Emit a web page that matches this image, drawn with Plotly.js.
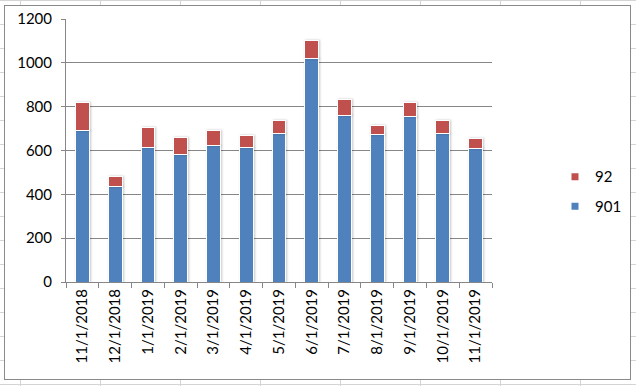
<!DOCTYPE html>
<html>
<head>
<meta charset="utf-8">
<script src="https://cdn.plot.ly/plotly-3.0.1.min.js"></script>
<style>
  html, body { margin: 0; padding: 0; }
  body {
    width: 636px; height: 386px; overflow: hidden; position: relative;
    background-color: #ffffff;
    background-image:
      linear-gradient(to right, #d4d4d4 1px, transparent 1px),
      linear-gradient(to bottom, #d4d4d4 1px, transparent 1px);
    background-size: 80px 24px, 80px 24px;
    background-position: 20px 0, 0 0;
  }
  #box {
    position: absolute; left: 4px; top: 5px;
    width: 625px; height: 373px;
    border: 1px solid #8a8a8a; background: #ffffff;
  }
  #chart { width: 625px; height: 373px; }
  #chart .trace.bars .point path {
    filter: drop-shadow(1px 0px 1px rgba(0,0,0,0.22));
  }
  #chart .legend .legendpoints path {
    stroke: #ffffff !important;
    stroke-width: 5px !important;
  }
</style>
</head>
<body>
<div id="box"><div id="chart"></div></div>
<script>
const categories = ["11/1/2018","12/1/2018","1/1/2019","2/1/2019","3/1/2019","4/1/2019",
  "5/1/2019","6/1/2019","7/1/2019","8/1/2019","9/1/2019","10/1/2019","11/1/2019"];
const series901 = [692, 436, 614, 584, 623, 614, 677, 1020, 759, 674, 756, 678, 610];
const series92  = [128, 44, 90, 74, 66, 54, 58, 83, 76, 38, 61, 57, 44];
const yTicks = [0, 200, 400, 600, 800, 1000, 1200];

const fontFam = "Lato, 'Open Sans', sans-serif";

const traces = [
  {
    type: "bar", name: "901", x: categories, y: series901,
    legendrank: 2, legendgroup: "g901",
    marker: { color: "#4F81BD", line: { color: "#ffffff", width: 1 } },
    hoverinfo: "skip"
  },
  {
    type: "bar", name: "92", x: categories, y: series92,
    legendrank: 1, legendgroup: "g92",
    marker: { color: "#C0504D", line: { color: "#ffffff", width: 1 } },
    hoverinfo: "skip"
  }
];

const layout = {
  width: 625, height: 373,
  margin: { l: 61, r: 138, t: 13, b: 97, pad: 0 },
  paper_bgcolor: "#ffffff", plot_bgcolor: "#ffffff",
  barmode: "stack",
  bargap: 0.58,
  font: { family: fontFam, size: 15, color: "#000000" },
  showlegend: true,
  legend: {
    xref: "container", yref: "container",
    x: 0.88, xanchor: "left", y: 0.503, yanchor: "middle",
    traceorder: "grouped",
    tracegroupgap: 7,
    font: { family: fontFam, size: 15, color: "#000000" },
    bgcolor: "rgba(0,0,0,0)"
  },
  xaxis: {
    type: "category",
    tickangle: -90,
    showline: true, linecolor: "#868686", linewidth: 1,
    ticks: "outside", tickson: "boundaries", ticklen: 5, tickcolor: "#868686",
    showgrid: false, zeroline: false,
    tickfont: { family: fontFam, size: 15, color: "#000000" },
    fixedrange: true
  },
  yaxis: {
    range: [0, 1200],
    tickvals: yTicks,
    ticktext: yTicks.map(String),
    showline: true, linecolor: "#868686", linewidth: 1,
    ticks: "outside", ticklen: 4, tickcolor: "#868686",
    showgrid: true, gridcolor: "#868686", gridwidth: 1,
    zeroline: false,
    ticklabelstandoff: 6,
    tickfont: { family: fontFam, size: 15, color: "#000000" },
    fixedrange: true
  }
};

Plotly.newPlot("chart", traces, layout, { displayModeBar: false, staticPlot: true });
</script>
</body>
</html>
